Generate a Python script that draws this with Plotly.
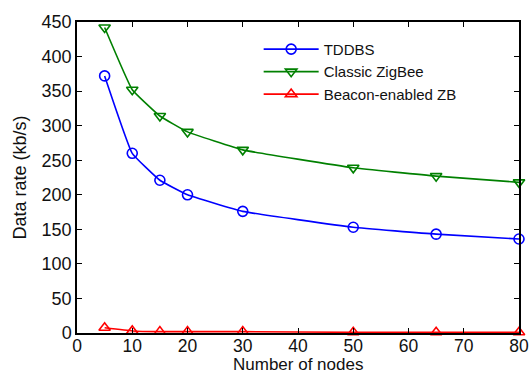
import plotly.graph_objects as go

nodes = [5, 10, 15, 20, 30, 50, 65, 80]
tddbs = [372, 260, 221, 200, 176, 153, 143, 136]
classic = [442, 352, 314, 291, 265, 239, 227, 218]
beacon = [7.5, 3, 2, 2, 2, 1, 1, 1]

x_ticks = [0, 10, 20, 30, 40, 50, 60, 70, 80]
y_ticks = [0, 50, 100, 150, 200, 250, 300, 350, 400, 450]
x_title = "Number of nodes"
y_title = "Data rate (kb/s)"

fig = go.Figure()
series = [
    ("TDDBS", tddbs, "#0000ff", "circle-open"),
    ("Classic ZigBee", classic, "#008000", "triangle-down-open"),
    ("Beacon-enabled ZB", beacon, "#ff0000", "triangle-up-open"),
]
for name, vals, color, sym in series:
    fig.add_trace(go.Scatter(
        x=nodes, y=vals, name=name, mode="lines+markers",
        line=dict(color=color, width=1.6, shape="spline", smoothing=0.3),
        marker=dict(symbol=sym, size=10, color=color, line=dict(width=1.6, color=color)),
        cliponaxis=False,
    ))

axis_common = dict(
    showgrid=False, zeroline=False, showline=True, linecolor="black", linewidth=1.5,
    mirror="ticks", ticks="inside", ticklen=5, tickwidth=1, tickcolor="black",
    automargin=False,
)
fig.update_layout(
    width=531, height=374,
    margin=dict(l=77, r=12, t=22, b=41),
    paper_bgcolor="white", plot_bgcolor="white",
    font=dict(family="Liberation Sans, Arial, sans-serif", size=16, color="#111"),
    xaxis=dict(range=[0, 80], tickvals=x_ticks, ticklabelstandoff=-4,
               tickfont=dict(size=17.5, color="#111"), **axis_common),
    yaxis=dict(range=[0, 450], tickvals=y_ticks, tickfont=dict(size=18, color="#111"),
               title=dict(text=y_title, font=dict(size=18), standoff=10), **axis_common),
    legend=dict(x=0.411, y=0.965, xanchor="left", yanchor="top", bgcolor="rgba(0,0,0,0)",
                font=dict(size=15), tracegroupgap=0, itemwidth=55),
    showlegend=True,
)
fig.add_annotation(
    text=x_title, xref="paper", yref="paper", x=0.5, y=0,
    xanchor="center", yanchor="middle", yshift=-31, showarrow=False,
    font=dict(size=17, color="#111"), borderpad=0,
)
fig.write_html(
    "out.html",
    config={"displayModeBar": False},
    post_script="document.body.style.margin='0';document.body.style.overflow='hidden';",
)
